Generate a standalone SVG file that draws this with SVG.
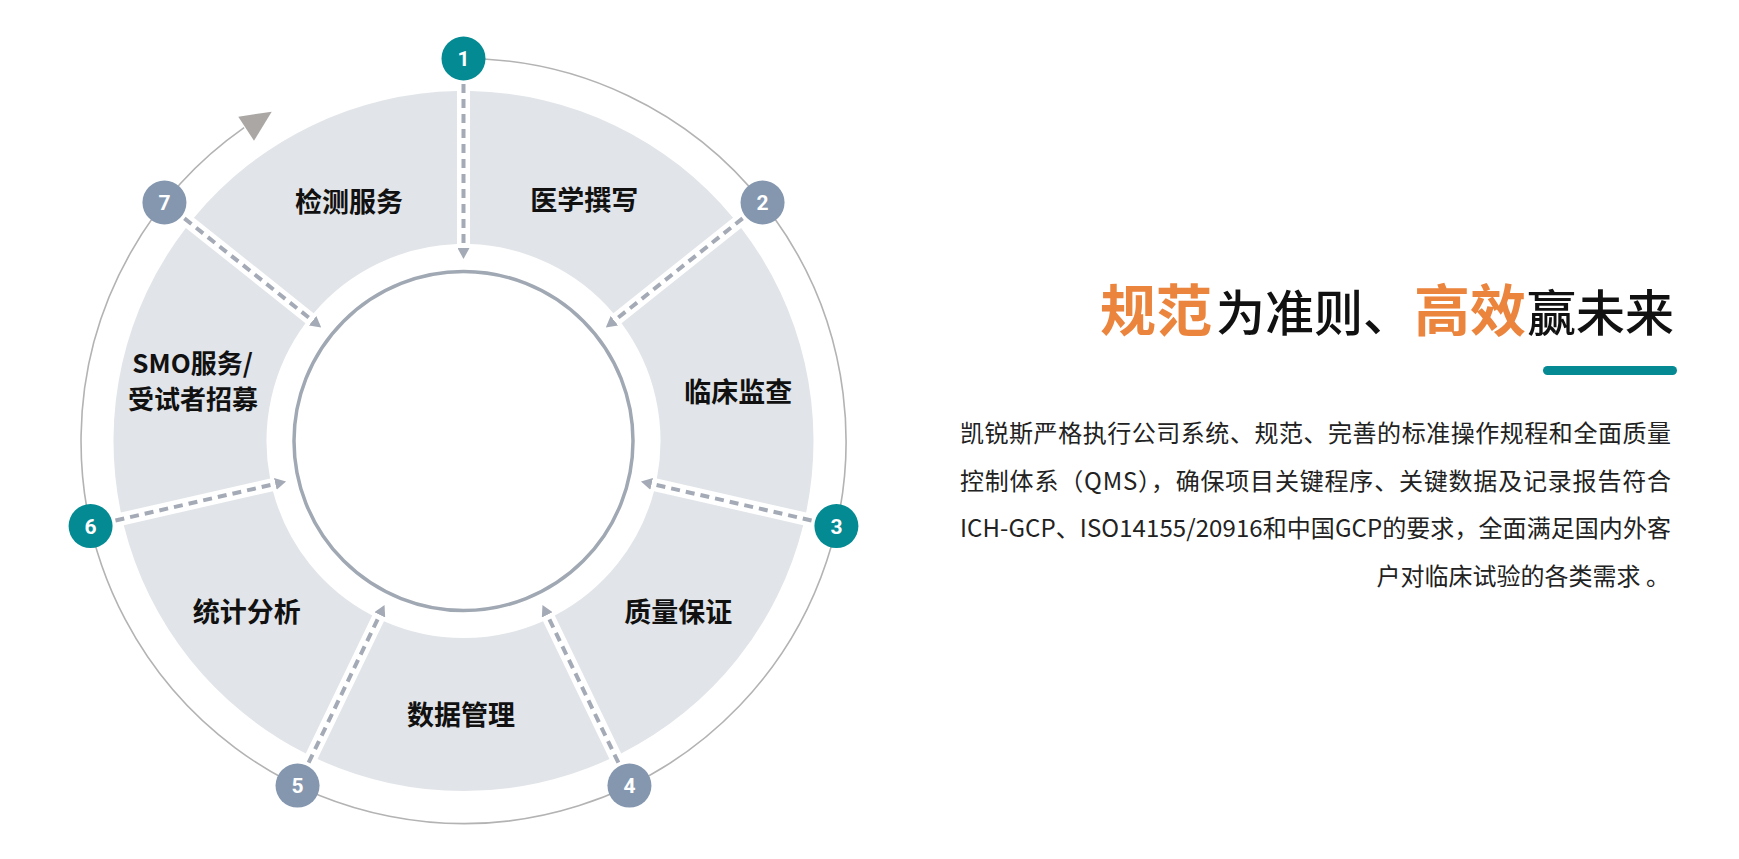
<svg xmlns="http://www.w3.org/2000/svg" width="1739" height="859" viewBox="0 0 1739 859">
<style>
.ring{fill:#e1e4e8}
.lbl{font-family:"Noto Sans CJK SC","Noto Sans",sans-serif;font-size:27px;font-weight:700;fill:#111;text-anchor:middle}
.lbl2{font-size:26px}
.num{font-family:Roboto,"Liberation Sans",sans-serif;font-weight:700;font-size:21px;fill:#fff;text-anchor:middle}
.teal{fill:#038a93}
.slate{fill:#8497af}
.flow{stroke:#a4abb6;stroke-width:4;stroke-dasharray:9 6;fill:none;marker-end:url(#ah)}
.t-or{font-family:"Noto Sans CJK SC",sans-serif;font-size:56px;font-weight:700;fill:#eb843c}
.t-bk{font-family:"Noto Sans CJK SC",sans-serif;font-size:49px;font-weight:500;fill:#111}
.para{font-family:"Noto Sans CJK SC",sans-serif;font-size:24px;fill:#222}
</style>
<defs>
<marker id="ah" viewBox="0 0 11 12" refX="1" refY="6" markerWidth="11" markerHeight="12" markerUnits="userSpaceOnUse" orient="auto">
<path d="M0,0 L11,6 L0,12 Z" fill="#a4abb6"/>
</marker>
</defs>
<rect width="1739" height="859" fill="#fff"/>

<g id="cycle-arc">
<path d="M 463.5 58.5 A 382.5 382.5 0 1 1 244.1 127.7" fill="none" stroke="#b3b3b3" stroke-width="1.6"/>
<path d="M238.3,116.7 L271.7,111.7 L254,140.7 Z" fill="#aba7a4"/>
</g>

<g id="center-circle">
<circle cx="463.5" cy="441" r="169.5" fill="#fff" stroke="#a0a8b3" stroke-width="3.5"/>
</g>

<g id="sector-yixue">
<path class="ring" d="M470,91.06 A350,350 0 0 1 733.04,217.73 L613.38,313.16 A197,197 0 0 0 470,244.11 Z"/>
<text class="lbl" x="584.3" y="210">医学撰写</text>
</g>
<g id="sector-linchuang">
<path class="ring" d="M741.15,227.9 A350,350 0 0 1 806.11,512.53 L656.9,478.48 A197,197 0 0 0 621.49,323.32 Z"/>
<text class="lbl" x="738.3" y="401.7">临床监查</text>
</g>
<g id="sector-zhiliang">
<path class="ring" d="M803.22,525.21 A350,350 0 0 1 621.19,753.47 L554.78,615.58 A197,197 0 0 0 654.01,491.15 Z"/>
<text class="lbl" x="678.3" y="621.7">质量保证</text>
</g>
<g id="sector-shuju">
<path class="ring" d="M609.48,759.11 A350,350 0 0 1 317.52,759.11 L383.93,621.22 A197,197 0 0 0 543.07,621.22 Z"/>
<text class="lbl" x="461" y="725">数据管理</text>
</g>
<g id="sector-tongji">
<path class="ring" d="M305.81,753.47 A350,350 0 0 1 123.78,525.21 L272.99,491.15 A197,197 0 0 0 372.22,615.58 Z"/>
<text class="lbl" x="246.7" y="621.7">统计分析</text>
</g>
<g id="sector-smo">
<path class="ring" d="M120.89,512.53 A350,350 0 0 1 185.85,227.9 L305.51,323.32 A197,197 0 0 0 270.1,478.48 Z"/>
<text class="lbl lbl2" x="192.5" y="373">SMO服务/</text>
<text class="lbl lbl2" x="193" y="408.5">受试者招募</text>
</g>
<g id="sector-jiance">
<path class="ring" d="M193.96,217.73 A350,350 0 0 1 457,91.06 L457,244.11 A197,197 0 0 0 313.62,313.16 Z"/>
<text class="lbl" x="349" y="211.7">检测服务</text>
</g>

<g id="connectors">
<path class="flow" d="M463.5,84 L463.5,249"/>
<path class="flow" d="M742.61,218.41 L613.61,321.29"/>
<path class="flow" d="M811.55,520.44 L650.69,483.72"/>
<path class="flow" d="M618.4,762.65 L546.81,613.99"/>
<path class="flow" d="M308.6,762.65 L380.19,613.99"/>
<path class="flow" d="M115.45,520.44 L276.31,483.72"/>
<path class="flow" d="M184.39,218.41 L313.39,321.29"/>
</g>

<g id="node-1"><circle class="teal" cx="463.5" cy="58.5" r="22"/><text class="num" x="463.5" y="66">1</text></g>
<g id="node-2"><circle class="slate" cx="762.55" cy="202.51" r="22"/><text class="num" x="762.55" y="210">2</text></g>
<g id="node-3"><circle class="teal" cx="836.41" cy="526.11" r="22"/><text class="num" x="836.41" y="533.6">3</text></g>
<g id="node-4"><circle class="slate" cx="629.46" cy="785.62" r="22"/><text class="num" x="629.46" y="793.1">4</text></g>
<g id="node-5"><circle class="slate" cx="297.54" cy="785.62" r="22"/><text class="num" x="297.54" y="793.1">5</text></g>
<g id="node-6"><circle class="teal" cx="90.59" cy="526.11" r="22"/><text class="num" x="90.59" y="533.6">6</text></g>
<g id="node-7"><circle class="slate" cx="164.45" cy="202.51" r="22"/><text class="num" x="164.45" y="210">7</text></g>

<g id="title">
<text class="t-or" x="1100" y="331">规范</text>
<text class="t-bk" x="1216" y="331">为准则、</text>
<text class="t-or" x="1414" y="331">高效</text>
<text class="t-bk" x="1527" y="331">赢未来</text>
<rect x="1543" y="366" width="134" height="9" rx="4.5" fill="#058a93"/>
</g>

<g id="description">
<text class="para" x="960" y="442" textLength="711" lengthAdjust="spacing">凯锐斯严格执行公司系统、规范、完善的标准操作规程和全面质量</text>
<text class="para" x="960" y="490" textLength="711" lengthAdjust="spacing">控制体系（QMS），确保项目关键程序、关键数据及记录报告符合</text>
<text class="para" x="960" y="537" textLength="711" lengthAdjust="spacing">ICH-GCP、ISO14155/20916和中国GCP的要求，全面满足国内外客</text>
<text class="para" x="1670" y="585" text-anchor="end">户对临床试验的各类需求 。</text>
</g>
</svg>
